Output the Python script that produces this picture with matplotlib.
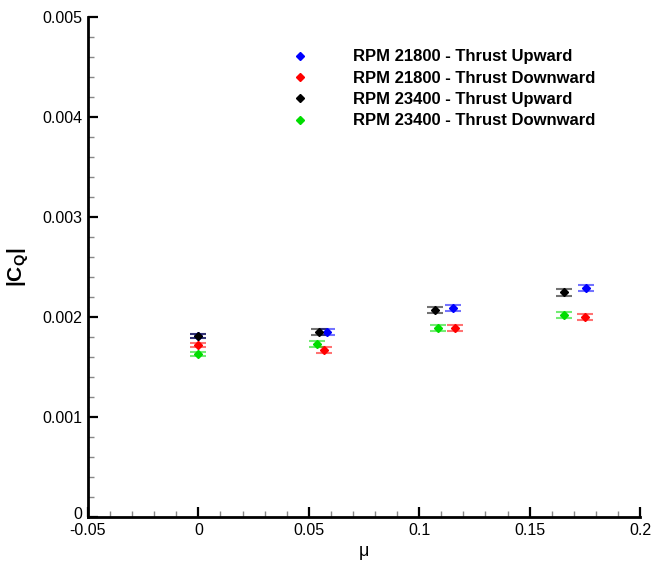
import matplotlib
matplotlib.use("Agg")
import matplotlib.pyplot as plt
import matplotlib.transforms as mtransforms
from matplotlib.ticker import MultipleLocator, FuncFormatter

plt.rcParams['font.family'] = ['Liberation Sans', 'DejaVu Sans']
plt.rcParams['mathtext.fontset'] = 'custom'
plt.rcParams['mathtext.rm'] = 'Liberation Sans'
plt.rcParams['mathtext.bf'] = 'Liberation Sans:bold'

labels = ["RPM 21800 - Thrust Upward", "RPM 21800 - Thrust Downward",
          "RPM 23400 - Thrust Upward", "RPM 23400 - Thrust Downward"]
colors = ["#0000ff", "#ff0000", "#000000", "#00dd00"]

mu_21800_up = [0.0, 0.0584, 0.1152, 0.1756]
cq_21800_up = [0.00181, 0.00185, 0.00209, 0.00229]
err_21800_up = [0.00002, 0.00003, 0.00003, 0.00003]

mu_21800_down = [0.0, 0.0571, 0.1161, 0.1753]
cq_21800_down = [0.00172, 0.00167, 0.00189, 0.00200]
err_21800_down = [0.00002, 0.00003, 0.00003, 0.00003]

mu_23400_up = [0.0, 0.0548, 0.1072, 0.1655]
cq_23400_up = [0.00181, 0.00185, 0.00207, 0.00225]
err_23400_up = [0.00002, 0.00003, 0.00003, 0.000035]

mu_23400_down = [0.0, 0.0539, 0.1087, 0.1656]
cq_23400_down = [0.00163, 0.00173, 0.00189, 0.00202]
err_23400_down = [0.00002, 0.00003, 0.00003, 0.00003]

series = [(mu_21800_up, cq_21800_up, err_21800_up),
          (mu_21800_down, cq_21800_down, err_21800_down),
          (mu_23400_up, cq_23400_up, err_23400_up),
          (mu_23400_down, cq_23400_down, err_23400_down)]

fig = plt.figure(figsize=(6.55, 5.61), dpi=100)
ax = fig.add_axes([88/655, 44/561, 552/655, 500/561])

handles = []
for (x, y, e), c, lab in zip(series, colors, labels):
    ax.errorbar(x, y, yerr=e, fmt='none', ecolor=c, elinewidth=0.5,
                capsize=6, capthick=1.5, alpha=0.55, zorder=2)
    h, = ax.plot(x, y, linestyle='none', marker='D', markersize=4.5,
                 color=c, label=lab, zorder=3)
    handles.append(h)

ax.set_xlim(-0.05, 0.2)
ax.set_ylim(0, 0.005)
ax.xaxis.set_major_locator(MultipleLocator(0.05))
ax.xaxis.set_minor_locator(MultipleLocator(0.01))
ax.yaxis.set_major_locator(MultipleLocator(0.001))
ax.yaxis.set_minor_locator(MultipleLocator(0.0002))

def fmt(v, pos):
    s = f"{v:.3f}".rstrip('0').rstrip('.')
    if s in ("-0", ""):
        s = "0"
    return s
ax.xaxis.set_major_formatter(FuncFormatter(fmt))
ax.yaxis.set_major_formatter(FuncFormatter(fmt))

for s in ['top', 'right']:
    ax.spines[s].set_visible(False)
for s in ['left', 'bottom']:
    ax.spines[s].set_linewidth(2)
ax.tick_params(which='major', direction='in', length=7, width=1.6,
               labelsize=11.5, colors='black', pad=4)
ax.tick_params(which='minor', direction='in', length=4, width=1,
               color='#888888')

ax.set_xlabel('μ', fontsize=13, labelpad=4)
ax.set_ylabel(r'$\mathbf{|C_Q|}$', fontsize=15, labelpad=8)

leg = ax.legend(handles=handles, loc='upper left', bbox_to_anchor=(0.344, 0.962),
                frameon=False, prop={'weight': 'bold', 'size': 12},
                handlelength=1.0, handletextpad=2.7, labelspacing=0.38,
                markerscale=0.8, borderpad=0.3)

fig.canvas.draw()
# nudge the y "0" label upward a little, as in the reference
for t in ax.get_yticklabels():
    if t.get_text() == "0":
        t.set_transform(t.get_transform() + mtransforms.ScaledTranslation(0, 4/100, fig.dpi_scale_trans))

fig.savefig('out.png', dpi=100)
